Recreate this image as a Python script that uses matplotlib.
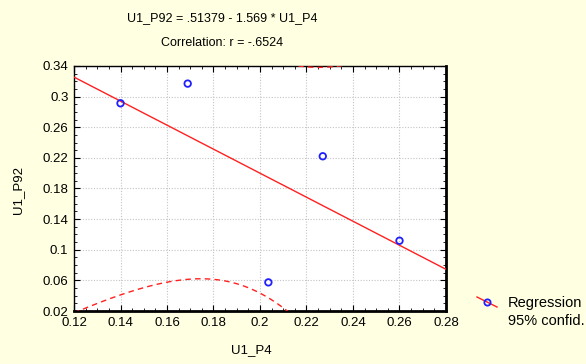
import numpy as np
import matplotlib
matplotlib.use("Agg")
import matplotlib.pyplot as plt
from matplotlib.ticker import MultipleLocator
from matplotlib.lines import Line2D

plt.rcParams['font.family'] = ['Liberation Sans', 'DejaVu Sans']

# data
u1_p4 = [0.140, 0.1689, 0.227, 0.260, 0.2036]
u1_p92 = [0.2913, 0.317, 0.2221, 0.1118, 0.0574]
intercept = 0.51379
slope = -1.569
r_corr = -0.6524
t_crit = 3.182  # t(0.975, df=3)

title1 = "U1_P92 = .51379 - 1.569 * U1_P4"
title2 = "Correlation: r = -.6524"
xlabel = "U1_P4"
ylabel = "U1_P92"
x_ticks = [0.12, 0.14, 0.16, 0.18, 0.2, 0.22, 0.24, 0.26, 0.28]
x_tick_labels = ["0.12", "0.14", "0.16", "0.18", "0.2", "0.22", "0.24", "0.26", "0.28"]
y_ticks = [0.02, 0.06, 0.1, 0.14, 0.18, 0.22, 0.26, 0.3, 0.34]
y_tick_labels = ["0.02", "0.06", "0.1", "0.14", "0.18", "0.22", "0.26", "0.3", "0.34"]
legend_labels = ["Regression", "95% confid."]

bg = "#FFFFE1"
red = "#FF2020"
blue = "#2020FF"

fig = plt.figure(figsize=(5.86, 3.64), dpi=100, facecolor=bg)
ax = fig.add_axes([74/586, (364-311)/364, (446-74)/586, (311-66)/364])
ax.set_facecolor("white")

x = np.asarray(u1_p4)
y = np.asarray(u1_p92)
n = len(x)
xs = np.linspace(0.12, 0.28, 400)
pred = intercept + slope * xs
syy = np.sum((y - y.mean())**2)
s = np.sqrt(syy * (1 - r_corr**2) / (n - 2))
sxx = np.sum((x - x.mean())**2)
hw = t_crit * s * np.sqrt(1.0/(n - 1) + (xs - x.mean())**2 / sxx)

ax.plot(xs, pred, color=red, lw=1.0, zorder=3)
ax.plot(xs, pred + hw, color=red, lw=1.0, ls=(0, (4, 3)), zorder=3)
ax.plot(xs, pred - hw, color=red, lw=1.0, ls=(0, (4, 3)), zorder=3)
ax.scatter(x, y, s=22, facecolors="none", edgecolors=blue, linewidths=1.3, zorder=4)

ax.set_xlim(0.12, 0.28)
ax.set_ylim(0.02, 0.34)
ax.set_xticks(x_ticks)
ax.set_xticklabels(x_tick_labels)
ax.set_yticks(y_ticks)
ax.set_yticklabels(y_tick_labels)
ax.xaxis.set_minor_locator(MultipleLocator(0.005))
ax.yaxis.set_minor_locator(MultipleLocator(0.01))
ax.tick_params(which="both", direction="in", top=True, right=True, colors="black",
               labelsize=9.5, pad=4)
ax.tick_params(which="major", length=4)
ax.tick_params(which="minor", length=2)
ax.grid(True, which="major", color="#C4C4C4", ls=(0, (1, 1.5)), lw=0.8)
for sp in ax.spines.values():
    sp.set_color("black")
    sp.set_linewidth(1.0)
ax.spines["right"].set_linewidth(2.0)
ax.spines["bottom"].set_linewidth(2.0)

fig.text(222/586, 1 - 18/364, title1, ha="center", va="center", fontsize=9)
fig.text(222/586, 1 - 43/364, title2, ha="center", va="center", fontsize=9)
fig.text(251/586, 1 - 350/364, xlabel, ha="center", va="center", fontsize=9.5)
fig.text(18/586, 1 - 190/364, ylabel, ha="center", va="center", fontsize=9.5, rotation=90)

# legend
fig.add_artist(Line2D([477/586, 497/586], [1 - 297/364, 1 - 307/364], color=red, lw=1.0))
fig.add_artist(Line2D([487/586], [1 - 302/364], marker="o", ms=4.5, mfc="none", mec=blue, mew=1.3))
fig.text(508/586, 1 - 303/364, legend_labels[0], ha="left", va="center", fontsize=10.5)
fig.text(508/586, 1 - 321/364, legend_labels[1], ha="left", va="center", fontsize=10.5)

fig.savefig("out.png", dpi=100, facecolor=bg)
